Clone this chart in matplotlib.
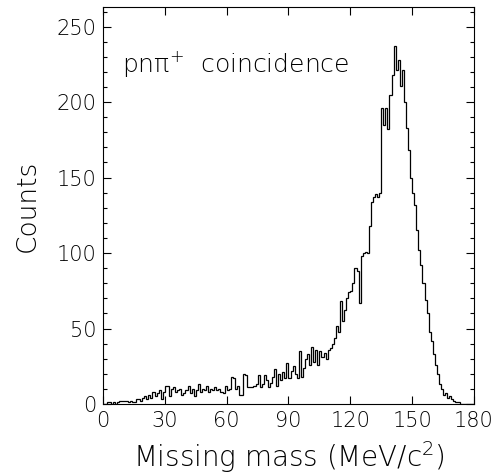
import numpy as np
import matplotlib.pyplot as plt
from matplotlib.ticker import MultipleLocator

# missing mass histogram, 1 MeV/c^2 bins from 0 to 180
bin_edges = np.arange(0, 181, 1)
counts = [
    0, 0, 1, 1, 0, 1, 0, 1, 2, 2,
    2, 2, 1, 2, 1, 1, 3, 3, 2, 4,
    5, 3, 6, 4, 8, 5, 7, 9, 3, 8,
    12, 12, 5, 10, 11, 8, 9, 10, 6, 7,
    9, 12, 7, 10, 5, 9, 13, 8, 10, 9,
    12, 8, 10, 9, 11, 9, 10, 8, 7, 12,
    9, 10, 18, 17, 10, 12, 6, 6, 20, 19,
    11, 11, 11, 12, 13, 19, 11, 13, 19, 16,
    11, 14, 18, 23, 12, 20, 16, 21, 17, 27,
    17, 22, 25, 20, 17, 35, 18, 24, 30, 33,
    26, 38, 28, 36, 26, 35, 31, 34, 30, 36,
    37, 40, 44, 52, 48, 68, 55, 62, 70, 74,
    75, 80, 90, 88, 67, 98, 100, 101, 100, 118,
    134, 137, 139, 137, 140, 196, 185, 196, 182, 205,
    218, 237, 221, 228, 211, 221, 200, 183, 168, 150,
    140, 132, 115, 102, 92, 80, 69, 60, 48, 42,
    33, 26, 20, 13, 10, 6, 7, 4, 5, 3,
    2, 1, 1, 0, 0, 0, 0, 0, 0, 0,
]

xticks = [0, 30, 60, 90, 120, 150, 180]
yticks = [0, 50, 100, 150, 200, 250]

plt.rcParams['font.family'] = ['DejaVu Sans']
plt.rcParams['mathtext.fontset'] = 'custom'
plt.rcParams['mathtext.rm'] = 'DejaVu Sans:light'
plt.rcParams['mathtext.it'] = 'DejaVu Sans:light'
plt.rcParams['mathtext.default'] = 'rm'

fig = plt.figure(figsize=(4.94, 4.74), dpi=100)
ax = fig.add_axes([0.2085, 0.1477, 0.751, 0.8375])

ax.stairs(counts, bin_edges, color='black', linewidth=0.9)

ax.set_xlim(0, 180)
ax.set_ylim(0, 263)
ax.set_xticks(xticks)
ax.set_yticks(yticks)
ax.yaxis.set_minor_locator(MultipleLocator(10))
ax.tick_params(which='both', direction='in', top=True, right=True, labelsize=15)
ax.tick_params(which='major', length=6, width=0.8, pad=5)
ax.tick_params(which='minor', length=3, width=0.8)
for lab in ax.get_xticklabels() + ax.get_yticklabels():
    lab.set_fontweight('light')

ax.set_xlabel('Missing mass (MeV/c$^2$)', fontsize=20, fontweight='light', labelpad=6)
ax.set_ylabel('Counts', fontsize=19, fontweight='light', labelpad=12)

ax.text(9, 225, r'pn$\pi^{+}$  coincidence', fontsize=18, fontweight='light', va='center')

fig.savefig('out.png', dpi=100)
